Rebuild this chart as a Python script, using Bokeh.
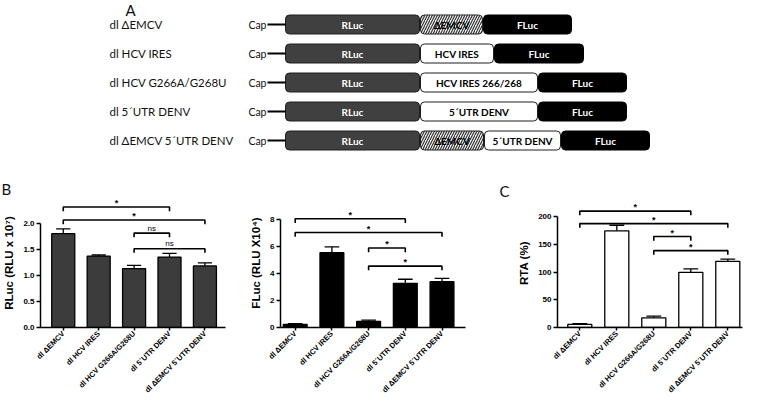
import numpy as np
from bokeh.plotting import figure
from bokeh.models import Range1d, FixedTicker
from bokeh.layouts import row, column
from bokeh.core.properties import value
from bokeh.embed import file_html
from bokeh.resources import INLINE

# ---------------- data ----------------
constructs = ["dl \u0394EMCV", "dl HCV IRES", "dl HCV G266A/G268U", "dl 5\u00b4UTR DENV",
              "dl \u0394EMCV 5\u00b4UTR DENV"]
segment_names = [["RLuc", "\u0394EMCV", "FLuc"],
                 ["RLuc", "HCV IRES", "FLuc"],
                 ["RLuc", "HCV IRES 266/268", "FLuc"],
                 ["RLuc", "5\u00b4UTR DENV", "FLuc"],
                 ["RLuc", "\u0394EMCV", "5\u00b4UTR DENV", "FLuc"]]
segment_kinds = [["rluc", "hatch", "fluc"],
                 ["rluc", "plain", "fluc"],
                 ["rluc", "plain", "fluc"],
                 ["rluc", "plain", "fluc"],
                 ["rluc", "hatch", "plain", "fluc"]]
segment_lengths = [[134, 62, 88], [134, 73, 89], [134, 117, 88], [134, 117, 88], [134, 63, 76, 88]]

categories = ["dl \u0394EMCV", "dl HCV IRES", "dl HCV G266A/G268U", "dl 5\u00b4UTR DENV",
              "dl \u0394EMCV 5\u00b4UTR DENV"]
rluc_mean = [1.80, 1.37, 1.13, 1.35, 1.18]
rluc_err = [0.09, 0.02, 0.06, 0.07, 0.06]
fluc_mean = [0.23, 5.53, 0.46, 3.27, 3.39]
fluc_err = [0.05, 0.44, 0.08, 0.30, 0.25]
rta_mean = [5.5, 174.5, 17.5, 99.5, 119.5]
rta_err = [1.3, 10.0, 3.0, 6.3, 4.0]

bracket_pairs = [(0, 3), (0, 4), (2, 3), (2, 4)]
rluc_bracket_y = [2.31, 2.06, 1.81, 1.51]
rluc_bracket_txt = ["*", "*", "ns", "ns"]
fluc_bracket_y = [8.04, 7.03, 5.88, 4.54]
fluc_bracket_txt = ["*", "*", "*", "*"]
rta_bracket_y = [210, 187.5, 164.3, 138.8]
rta_bracket_txt = ["*", "*", "*", "*"]

rluc_ticks = [0, 0.5, 1.0, 1.5, 2.0]
fluc_ticks = [0, 2, 4, 6, 8]
rta_ticks = [0, 50, 100, 150, 200]

panel_letters = ["A", "B", "C"]

# ---------------- panel A (also carries the B / C letters) ----------------
A_TOP, A_BOT = 8, 206
ROW_Y0, ROW_DY, BOX_H = 32, 29.0, 19
X0, GAP = 293, 1
LABEL_X, CAP_X = 117, 274
SANS = "Lato"

pA = figure(width=744, height=A_BOT - A_TOP, x_range=Range1d(8, 752), y_range=Range1d(A_BOT, A_TOP),
            x_axis_type=None, y_axis_type=None, output_backend="svg", toolbar_location=None,
            min_border=0, title=None)
pA.grid.visible = False
pA.outline_line_color = None

styles = {
    "rluc": dict(fill_color="#404040", line_color="#1e1e1e", text="white"),
    "plain": dict(fill_color="white", line_color="#1e1e1e", text="black"),
    "hatch": dict(fill_color="#f2f2f2", line_color="#1e1e1e", text="black"),
    "fluc": dict(fill_color="black", line_color="black", text="white"),
}
segs = {k: dict(left=[], right=[], top=[], bottom=[], cx=[], cy=[], name=[]) for k in styles}
row_y = [ROW_Y0 + i * ROW_DY for i in range(len(constructs))]
for i, (names, kinds, lens) in enumerate(zip(segment_names, segment_kinds, segment_lengths)):
    x = X0
    for nm, kd, ln in zip(names, kinds, lens):
        d = segs[kd]
        d["left"].append(x); d["right"].append(x + ln)
        d["top"].append(row_y[i] - BOX_H / 2); d["bottom"].append(row_y[i] + BOX_H / 2)
        d["cx"].append(x + ln / 2); d["cy"].append(row_y[i]); d["name"].append(nm)
        x += ln + GAP

for kd, st in styles.items():
    d = segs[kd]
    extra = {}
    if kd == "hatch":
        extra = dict(hatch_pattern="/", hatch_color="#2a2a2a", hatch_scale=5, hatch_weight=1.1)
    pA.quad(left=d["left"], right=d["right"], top=d["top"], bottom=d["bottom"],
            fill_color=st["fill_color"], line_color=st["line_color"], line_width=1,
            border_radius=4, **extra)
    pA.text(x=d["cx"], y=d["cy"], text=d["name"], text_align="center", text_baseline="middle",
            text_color=st["text"], text_font=value(SANS), text_font_style="bold",
            text_font_size="10px")

pA.text(x=[LABEL_X] * len(constructs), y=row_y, text=constructs, text_align="left",
        text_baseline="middle", text_font=value(SANS), text_font_size="11.5px", text_color="#111111")
pA.text(x=[CAP_X] * len(constructs), y=row_y, text=["Cap"] * len(constructs), text_align="right",
        text_baseline="middle", text_font=value(SANS), text_font_size="10.5px", text_color="#111111")
pA.segment(x0=[CAP_X + 1] * len(constructs), x1=[X0] * len(constructs), y0=row_y, y1=row_y,
           line_color="black", line_width=2)

letter_x = [133, 9, 507]
letter_y = [17, 196, 198]
pA.text(x=letter_x, y=letter_y, text=panel_letters, text_align="left", text_baseline="middle",
        text_font=value(SANS), text_font_size="15px", text_color="#111111")

# ---------------- bottom panels ----------------
B_TOP, B_BOT = A_BOT, 408
ARIAL = "Liberation Sans"


def bar_panel(img_x0, width, frame_left, frame_right, frame_bottom, ppu, cat0_img, ppc,
              means, errs, ticks, tick_fmt, ylabel, fill, br_y, br_txt):
    p = figure(width=width, height=B_BOT - B_TOP, output_backend="svg", toolbar_location=None,
               title=None,
               x_range=Range1d((frame_left - cat0_img) / ppc, (frame_right - cat0_img) / ppc),
               y_range=Range1d(0, (frame_bottom - B_TOP) / ppu),
               min_border_left=frame_left - img_x0, min_border_right=img_x0 + width - frame_right,
               min_border_top=0, min_border_bottom=B_BOT - frame_bottom)
    p.grid.visible = False
    p.outline_line_color = None
    idx = list(range(len(categories)))
    p.vbar(x=idx, top=means, width=0.65, fill_color=fill, line_color="black", line_width=1.3)
    tops = [m + e for m, e in zip(means, errs)]
    p.segment(x0=idx, x1=idx, y0=means, y1=tops, line_color="black", line_width=1.3)
    p.segment(x0=[i - 0.2 for i in idx], x1=[i + 0.2 for i in idx], y0=tops, y1=tops,
              line_color="black", line_width=1.3)
    drop = 4.5 / ppu
    xs = [[a, a, b, b] for a, b in bracket_pairs]
    ys = [[h - drop, h, h, h - drop] for h in br_y]
    p.multi_line(xs=xs, ys=ys, line_color="black", line_width=1.6)
    mids = [(a + b) / 2 for a, b in bracket_pairs]
    star_i = [k for k, t in enumerate(br_txt) if t == "*"]
    ns_i = [k for k, t in enumerate(br_txt) if t != "*"]
    if star_i:
        p.text(x=[mids[k] for k in star_i], y=[br_y[k] + 4.2 / ppu for k in star_i],
               text=[br_txt[k] for k in star_i], text_align="center", text_baseline="middle",
               text_font=value(ARIAL), text_font_style="bold", text_font_size="9px",
               text_color="black")
    if ns_i:
        p.text(x=[mids[k] for k in ns_i], y=[br_y[k] + 5.5 / ppu for k in ns_i],
               text=[br_txt[k] for k in ns_i], text_align="center", text_baseline="middle",
               text_font=value(ARIAL), text_font_size="8px", text_color="black")

    for ax in (p.xaxis[0], p.yaxis[0]):
        ax.axis_line_width = 1.5
        ax.major_tick_line_width = 1.5
        ax.minor_tick_line_color = None
        ax.major_tick_in = 0
        ax.major_label_text_font = ARIAL
        ax.major_label_text_font_style = "bold"
        ax.major_label_text_color = "black"
        ax.axis_line_color = "black"
        ax.major_tick_line_color = "black"
    xa = p.xaxis[0]
    xa.ticker = FixedTicker(ticks=idx)
    xa.major_label_overrides = {i: c for i, c in zip(idx, categories)}
    xa.major_label_orientation = np.pi / 4
    xa.major_label_text_font_size = "7.5px"
    xa.major_tick_out = 3
    xa.major_label_standoff = 2
    ya = p.yaxis[0]
    ya.ticker = FixedTicker(ticks=ticks)
    ya.major_label_overrides = {t: tick_fmt.format(t) for t in ticks}
    ya.bounds = (ticks[0], ticks[-1])
    ya.major_label_text_font_size = "8px"
    ya.major_tick_out = 4
    ya.major_label_standoff = 2
    ya.axis_label = ylabel
    ya.axis_label_text_font = ARIAL
    ya.axis_label_text_font_style = "bold"
    ya.axis_label_text_font_size = "11.5px"
    ya.axis_label_text_color = "black"
    ya.axis_label_standoff = 5
    return p


pB1 = bar_panel(8, 242, 46, 233, 347, 57.0, 69.0, 35.8, rluc_mean, rluc_err, rluc_ticks, "{:.1f}",
                "RLuc (RLU x 10\u2077)", "#3c3c3c", rluc_bracket_y, rluc_bracket_txt)
pB2 = bar_panel(250, 240, 288, 473, 344, 14.46, 302.7, 36.7, fluc_mean, fluc_err, fluc_ticks, "{:d}",
                "FLuc (RLU X10\u2074)", "black", fluc_bracket_y, fluc_bracket_txt)
pC = bar_panel(490, 262, 565, 750, 343, 0.5885, 587.3, 37.0, rta_mean, rta_err, rta_ticks, "{:d}",
               "RTA (%)", "white", rta_bracket_y, rta_bracket_txt)

layout = column(pA, row(pB1, pB2, pC, spacing=0), spacing=0)
open("out.html", "w").write(file_html(layout, INLINE))
